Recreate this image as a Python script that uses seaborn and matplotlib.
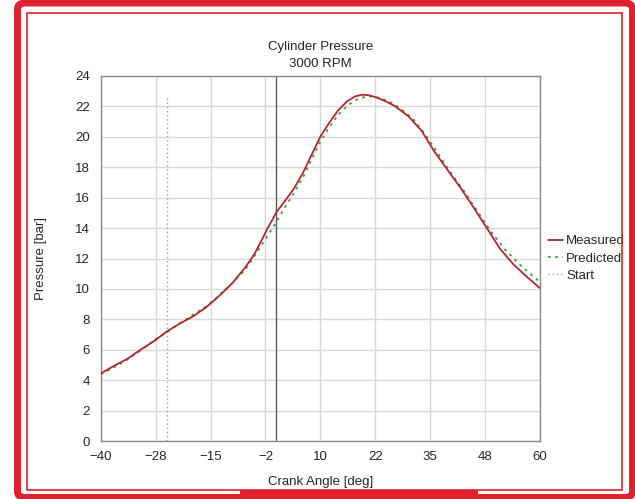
import matplotlib
matplotlib.use("Agg")
import matplotlib.pyplot as plt
from matplotlib.patches import FancyBboxPatch, Rectangle
import numpy as np
import pandas as pd
import seaborn as sns

# Measured cylinder pressure trace
measured_angle = [-40, -37, -34, -31, -28, -25, -22, -19, -16, -13, -10, -7, -5, -3, -2, -1, 0,
                  2, 4, 6, 8, 10, 12, 14, 16, 18, 19.5, 21, 23, 25, 27, 30, 33, 36, 39,
                  42, 45, 48, 51, 54, 57, 60]
measured_bar = [4.45, 4.95, 5.4, 6.0, 6.55, 7.2, 7.73, 8.2, 8.8, 9.55, 10.4, 11.45, 12.3, 13.4, 14.0, 14.5, 15.05,
                15.8, 16.6, 17.6, 18.8, 20.0, 20.9, 21.7, 22.3, 22.65, 22.75, 22.72, 22.55, 22.3, 22.0,
                21.35, 20.4, 19.0, 17.8, 16.6, 15.3, 13.95, 12.6, 11.6, 10.8, 10.05]

# Model prediction
predicted_angle = [-40, -37, -34, -31, -28, -25, -22, -19, -16, -13, -10, -7, -4, -2, 0,
                   2, 4, 6, 8, 10, 12, 14, 16, 18, 20, 22, 24, 26, 28, 31, 34, 37, 40,
                   43, 46, 49, 52, 55, 58, 60]
predicted_bar = [4.4, 4.85, 5.35, 5.95, 6.6, 7.15, 7.75, 8.3, 8.85, 9.6, 10.4, 11.3, 12.6, 13.5, 14.4,
                 15.4, 16.3, 17.3, 18.5, 19.7, 20.6, 21.4, 22.0, 22.4, 22.6, 22.65, 22.5, 22.25, 21.9,
                 21.2, 20.1, 18.8, 17.5, 16.3, 15.0, 13.7, 12.6, 11.7, 10.95, 10.45]

# Start of combustion marker
start_angle = -25
start_top = 22.6
tdc_angle = 0

x_ticks = np.linspace(-40, 60, 9)
x_tick_labels = ["\u221240", "\u221228", "\u221215", "\u22122", "10", "22", "35", "48", "60"]
y_ticks = list(range(0, 25, 2))

sns.set_style("white")
plt.rcParams["font.family"] = ["Liberation Sans", "DejaVu Sans"]
plt.rcParams["font.size"] = 9.5

fig = plt.figure(figsize=(6.35, 4.99), dpi=100)
ax = fig.add_axes([0.1586, 0.1156, 0.6918, 0.7327])

ax.set_xlim(-40, 60)
ax.set_ylim(0, 24)
ax.set_xticks(x_ticks)
ax.set_xticklabels(x_tick_labels)
ax.set_yticks(y_ticks)
ax.grid(True, color="#d8d8d8", linewidth=1.0)
ax.set_axisbelow(True)
for s in ax.spines.values():
    s.set_color("#8a8a8a")
    s.set_linewidth(1.0)
ax.tick_params(axis="x", direction="in", length=3, color="#8a8a8a", pad=7, labelsize=9.5)
ax.tick_params(axis="y", length=0, pad=8, labelsize=9.5)

# TDC reference line
ax.axvline(tdc_angle, color="#5a5a5a", linewidth=1.0, zorder=2)

df_m = pd.DataFrame({"angle": measured_angle, "pressure": measured_bar})
df_p = pd.DataFrame({"angle": predicted_angle, "pressure": predicted_bar})

ax.plot([start_angle, start_angle], [0, start_top], color="#a0a0a0", linestyle=(0, (1, 2)),
        linewidth=1.0, label="Start", zorder=2)
sns.lineplot(data=df_p, x="angle", y="pressure", ax=ax, color="#3d9e3d",
             linestyle=(0, (1.5, 2.5)), linewidth=1.3, label="Predicted", zorder=3)
sns.lineplot(data=df_m, x="angle", y="pressure", ax=ax, color="#b0282e",
             linewidth=1.3, label="Measured", zorder=4)

ax.set_xlabel("Crank Angle [deg]", fontsize=9.5, labelpad=9)
ax.set_ylabel("Pressure [bar]", fontsize=9.5, labelpad=20)
ax.set_title("Cylinder Pressure\n3000 RPM", fontsize=9.5, pad=6, linespacing=1.6)

handles, labels = ax.get_legend_handles_labels()
order = [labels.index(n) for n in ["Measured", "Predicted", "Start"]]
ax.get_legend().remove()
fig.legend([handles[i] for i in order], [labels[i] for i in order],
           loc="center left", bbox_to_anchor=(0.852, 0.482), frameon=False,
           handlelength=1.15, handletextpad=0.25, labelspacing=0.38, borderpad=0,
           fontsize=9.5)

# Red page frame
red = "#e0202c"
fig.patches.append(FancyBboxPatch((17.5 / 635, 1 - 497.5 / 499), (632.5 - 17.5) / 635, (497.5 - 3) / 499,
                                  boxstyle="round,pad=0,rounding_size=0.012", transform=fig.transFigure,
                                  facecolor="none", edgecolor=red, linewidth=5.0, zorder=10))
fig.patches.append(Rectangle((26.5 / 635, 1 - 490 / 499), (621.5 - 26.5) / 635, (490 - 12.5) / 499,
                             transform=fig.transFigure, facecolor="none", edgecolor=red,
                             linewidth=1.2, zorder=10))
fig.patches.append(Rectangle((240 / 635, 1 - 498 / 499), (478 - 240) / 635, 8 / 499,
                             transform=fig.transFigure, facecolor=red, edgecolor="none", zorder=10))

fig.savefig("out.png", dpi=100)
